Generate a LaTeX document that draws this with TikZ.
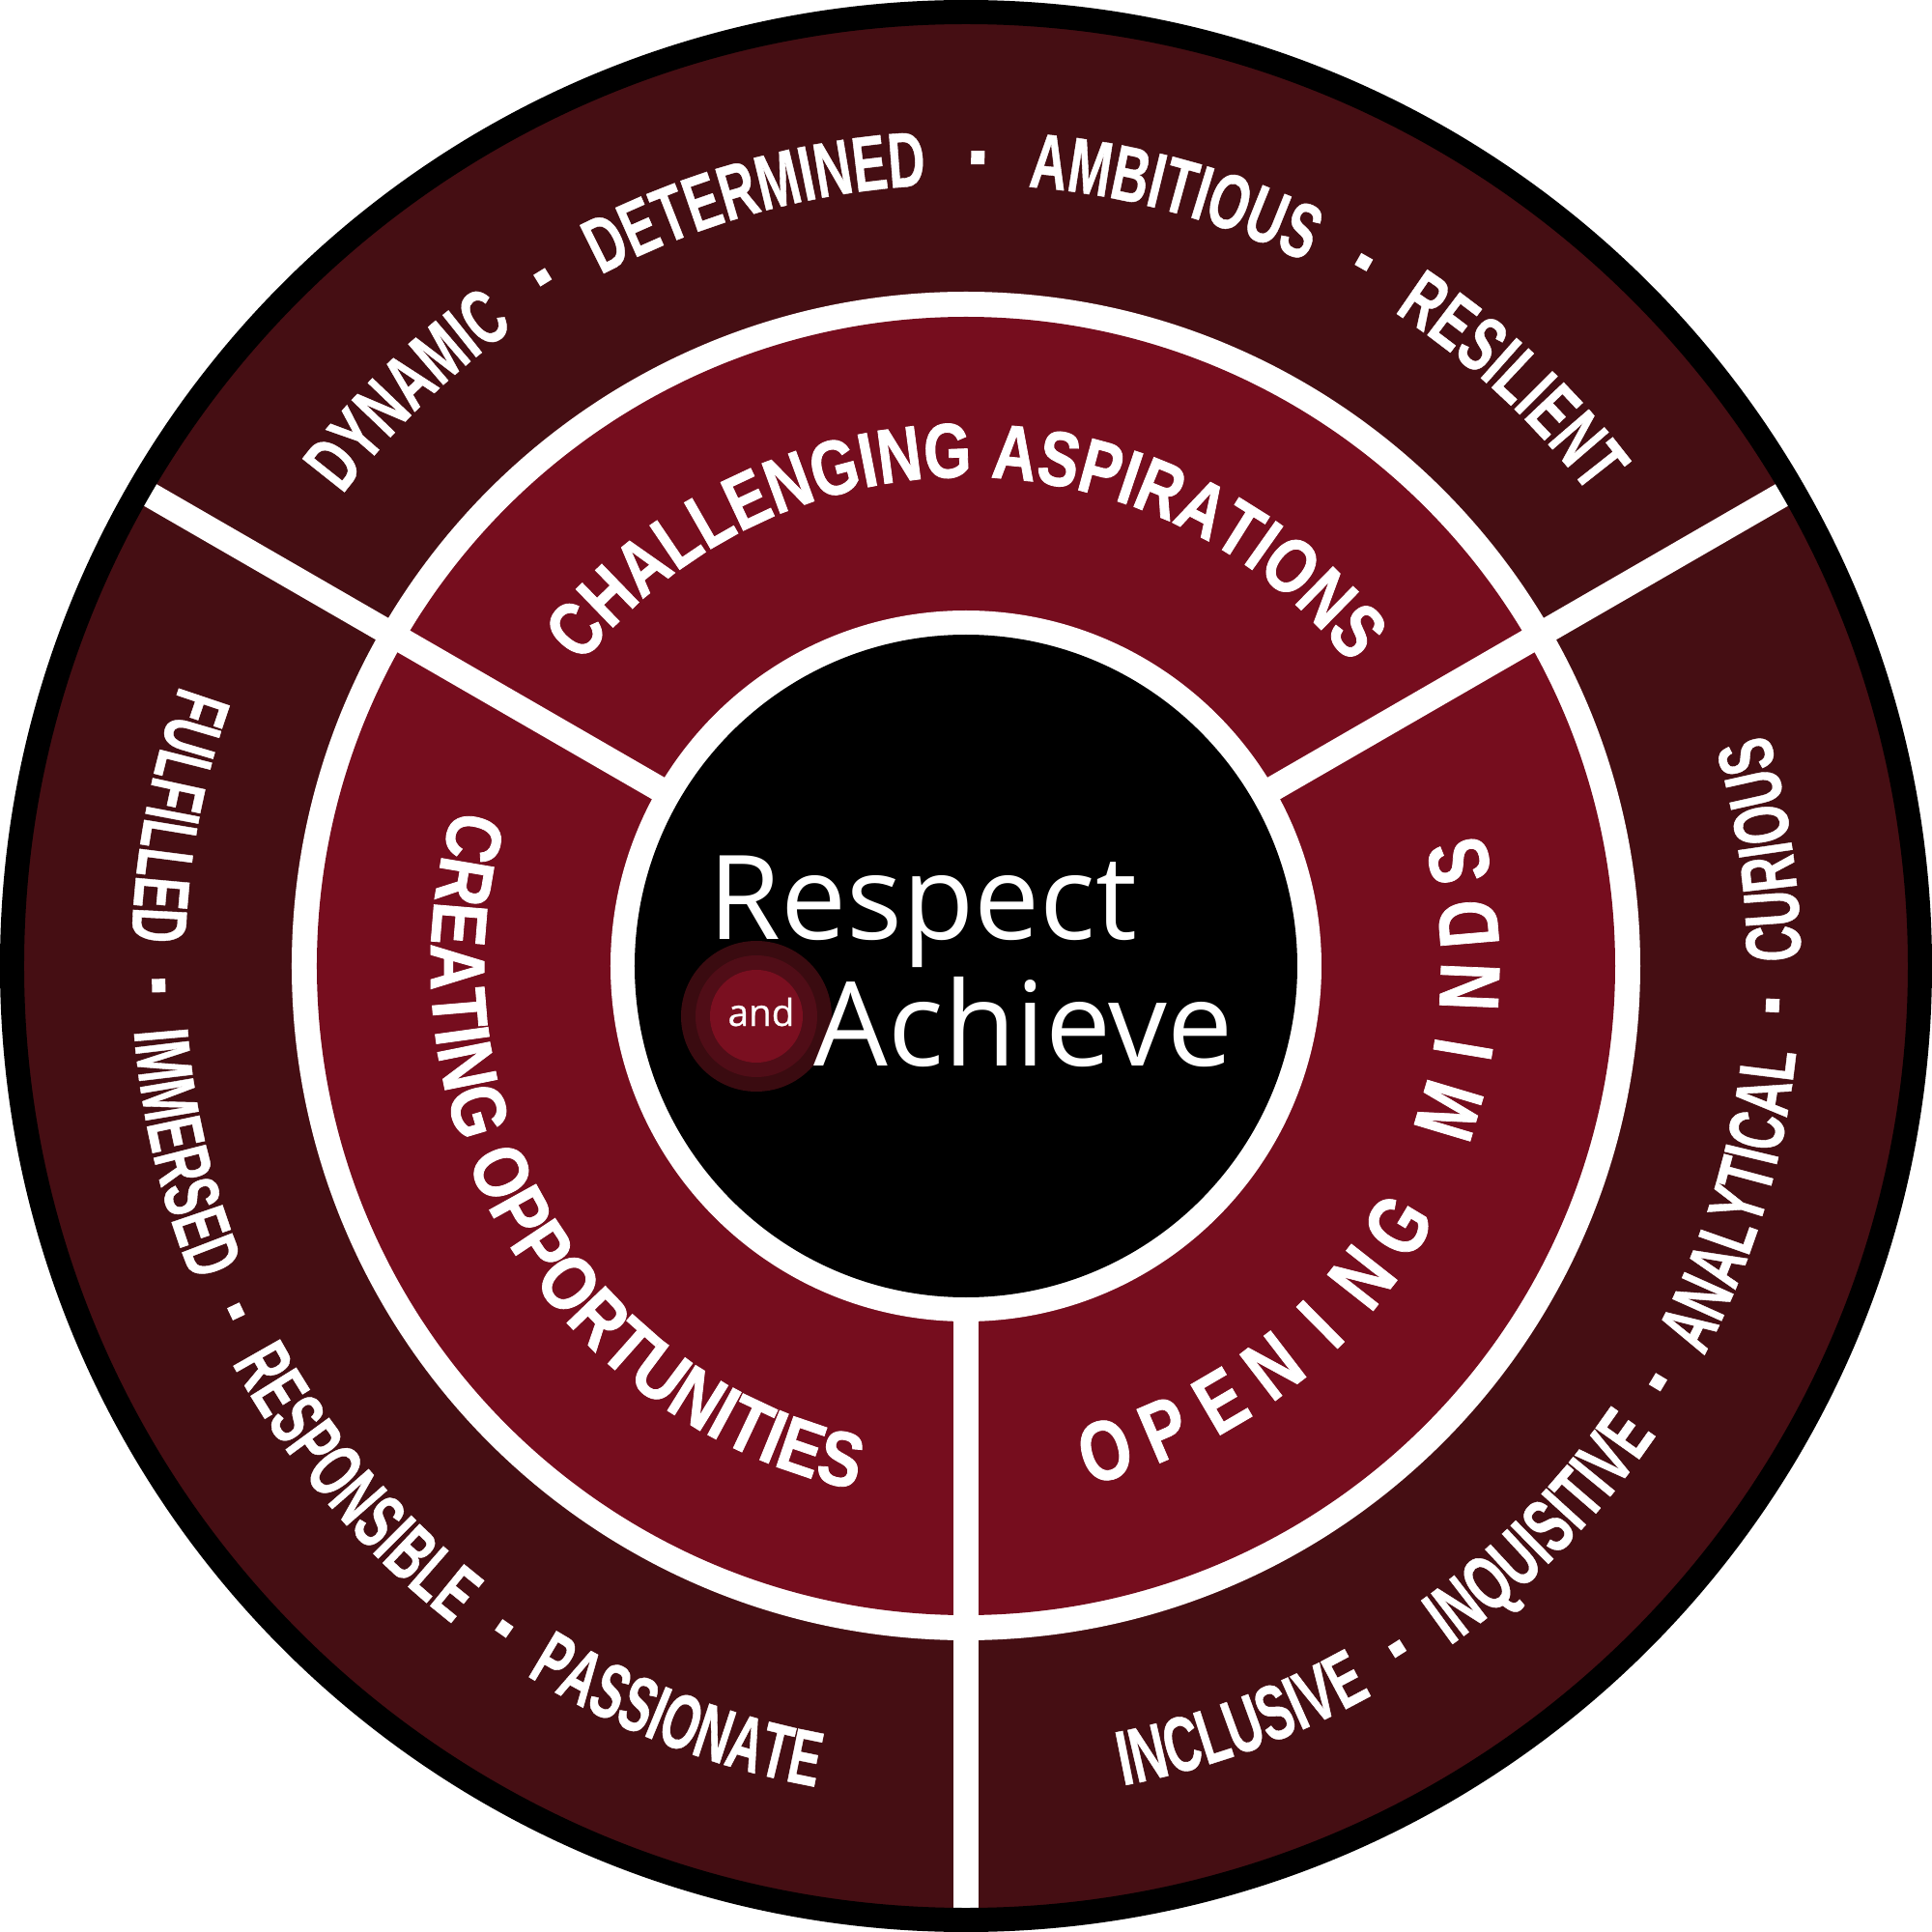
\documentclass[tikz,border=0pt]{standalone}
\usepackage{fontspec}
\newfontfamily\ringfontT{Liberation Sans}[FakeStretch=0.66,FakeBold=0.5]
\newfontfamily\ringfontR{Liberation Sans}[FakeStretch=0.64,FakeBold=0.5]
\newfontfamily\ringfontL{Liberation Sans}[FakeStretch=0.615,FakeBold=0.5]
\newfontfamily\midfont{Liberation Sans}[FakeStretch=0.79,FakeBold=1]
\newfontfamily\midfontC{Liberation Sans}[FakeStretch=0.84,FakeBold=1]
\newfontfamily\minfont{Liberation Sans}[FakeStretch=0.78,FakeBold=0.8]
\newfontfamily\logofont{Open Sans}
\newfontfamily\andfont{Open Sans}[FakeBold=0.6]
\definecolor{outerring}{HTML}{450E13}
\definecolor{midring}{HTML}{760D1E}
\definecolor{andouter}{HTML}{3A0B10}
\definecolor{andmid}{HTML}{500D17}
\definecolor{andinner}{HTML}{7A0F20}
\newcommand{\ARdot}{\rule[0.21cm]{0.14cm}{0.14cm}}
\newcommand{\ARsepT}{\makebox[1.05cm]{\ARdot}}
\newcommand{\ARsepR}{\makebox[0.95cm]{\ARdot}}
\newcommand{\ARsepL}{\makebox[0.93cm]{\ARdot}}
\newcommand{\ARsp}{\hspace*{0.19cm}}
\newcommand{\ARslot}[1]{\makebox[0.69cm]{#1}}
\newcommand{\ARfontT}{\ringfontT\bfseries\fontsize{23pt}{27pt}\selectfont}
\newcommand{\ARfontR}{\ringfontR\bfseries\fontsize{23pt}{27pt}\selectfont}
\newcommand{\ARfontL}{\ringfontL\bfseries\fontsize{23pt}{27pt}\selectfont}
\newcommand{\ARmidfont}{\midfont\bfseries\fontsize{22.8pt}{27pt}\selectfont}
\newcommand{\ARmidfontC}{\midfontC\bfseries\fontsize{22.8pt}{27pt}\selectfont}
\newcommand{\ARminfont}{\minfont\bfseries\fontsize{25pt}{29pt}\selectfont}
\AtBeginDocument{\let\ARorigselectfont\selectfont}
\makeatletter
\newdimen\ARtotal \newdimen\ARpos \newdimen\ARwd
% #1 font, #2 baseline radius (cm), #3 centre angle, #4 direction (1 = ccw, tops inward; -1 = cw, tops outward), #5 tokens
\newcommand\ARarctext[5]{%
  \global\ARtotal=0pt
  \@tfor\AR@ch:=#5\do{\setbox\z@\hbox{\let\selectfont\ARorigselectfont#1\AR@ch}\global\advance\ARtotal\wd\z@}%
  \global\ARpos=-0.5\ARtotal
  \@tfor\AR@ch:=#5\do{%
    \setbox\z@\hbox{\let\selectfont\ARorigselectfont#1\AR@ch}\global\ARwd=\wd\z@
    \edef\AR@s{\strip@pt\ARpos}\edef\AR@w{\strip@pt\ARwd}%
    \pgfmathsetmacro\AR@ang{#3+(#4)*(\AR@s+0.5*\AR@w)/(#2*28.45274)*57.29578}%
    \pgfmathsetmacro\AR@rot{\AR@ang+(#4)*90}%
    \node[anchor=base, inner sep=0pt, outer sep=0pt, rotate=\AR@rot, text=white] at (\AR@ang:#2) {#1\AR@ch};%
    \global\advance\ARpos\ARwd
  }%
}
\makeatother
\tikzset{divider/.style={white, line width=0.26cm}}
\begin{document}
\begin{tikzpicture}
\useasboundingbox (-10,-10) rectangle (10,10);
% rings
\fill[outerring] (0,0) circle[radius=9.9];
\fill[white] (0,0) circle[radius=6.98];
\fill[midring] (0,0) circle[radius=6.72];
\fill[white] (0,0) circle[radius=3.68];
\fill[black] (0,0) circle[radius=3.43];
% dividers
\coordinate (c30a) at (30:3.6);  \coordinate (c30b) at (30:9.95);
\coordinate (c150a) at (150:3.6); \coordinate (c150b) at (150:9.95);
\coordinate (c270a) at (270:3.6); \coordinate (c270b) at (270:9.95);
\draw[divider] (c30a) -- (c30b);
\draw[divider] (c150a) -- (c150b);
\draw[divider] (c270a) -- (c270b);
% black border
\draw[black, line width=0.25cm] (0,0) circle[radius=9.875];
% outer ring words
\ARarctext{\ARfontT}{8.09}{90}{-1}{DYNAMIC\ARsepT DETERMINED\ARsepT AMBITIOUS\ARsepT RESILIENT}
\ARarctext{\ARfontR}{8.64}{-31.5}{1}{INCLUSIVE\ARsepR INQUISITIVE\ARsepR ANALYTICAL\ARsepR CURIOUS}
\ARarctext{\ARfontL}{8.64}{210}{1}{FULFILLED\ARsepL IMMERSED\ARsepL RESPONSIBLE\ARsepL PASSIONATE}
% middle ring words
\ARarctext{\ARmidfont}{5.06}{90}{-1}{CHALLENGING\ARsp ASPIRATIONS}
\ARarctext{\ARmidfontC}{5.54}{210.5}{1}{CREATING\ARsp OPPORTUNITIES}
\ARarctext{\ARminfont}{5.52}{-31}{1}{{\ARslot{O}}{\ARslot{P}}{\ARslot{E}}{\ARslot{N}}{\ARslot{I}}{\ARslot{N}}{\ARslot{G}}{\ARslot{}}{\ARslot{M}}{\ARslot{I}}{\ARslot{N}}{\ARslot{D}}{\ARslot{S}}}
% centre logo
\fill[andouter] (-2.17,-0.52) circle[radius=0.78];
\fill[andmid] (-2.17,-0.52) circle[radius=0.63];
\fill[andinner] (-2.17,-0.52) circle[radius=0.48];
\node[white, inner sep=0, anchor=base west, font=\logofont\fontsize{34.5pt}{40pt}\selectfont] (respect) at (-2.67,0.28) {Respect};
\node[white, inner sep=0, anchor=base west, font=\logofont\fontsize{34.5pt}{40pt}\selectfont] (achieve) at (-1.58,-1.03) {Achieve};
\node[white, inner sep=0, anchor=base, font=\andfont\fontsize{11pt}{13pt}\selectfont] (and) at (-2.12,-0.62) {and};
\end{tikzpicture}
\end{document}
